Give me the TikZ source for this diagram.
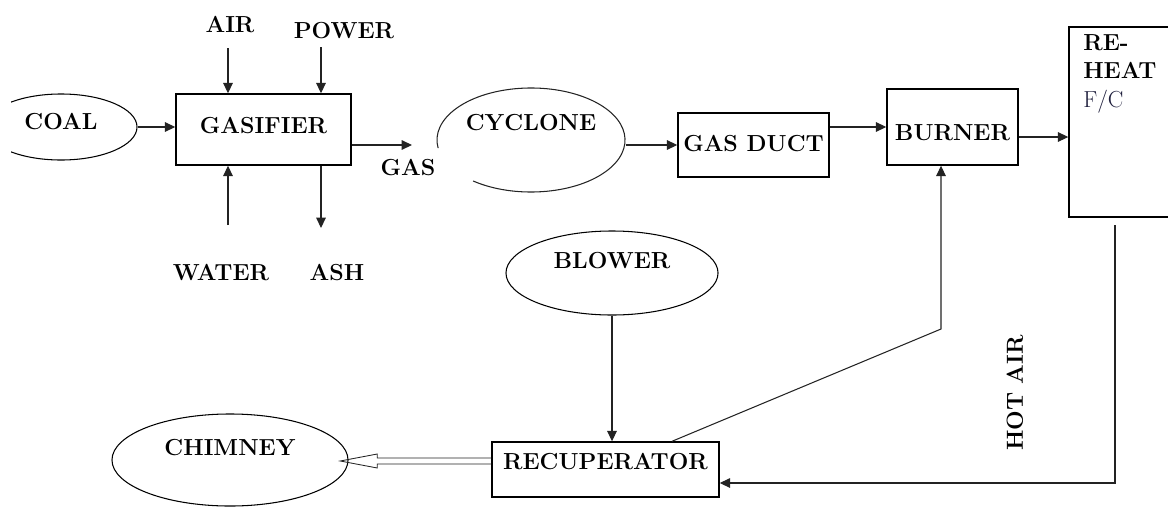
\documentclass[tikz,border=0pt]{standalone}
\usepackage{tikz}
\usetikzlibrary{arrows.meta,positioning,calc,shapes.geometric}
\definecolor{lnk}{RGB}{35,35,35}
\definecolor{fcblue}{RGB}{30,30,60}
\newcommand{\plantfont}{\fontsize{16.5}{20.2}\selectfont\bfseries}
\tikzset{
  blk/.style={draw, line width=1pt, inner sep=0pt, font=\plantfont, text height=0.4cm, text depth=0pt},
  oval/.style={ellipse, draw, line width=0.75pt, inner sep=0pt, font=\plantfont, text height=0.4cm},
  lbl/.style={inner sep=0pt, font=\plantfont},
  arr/.style={-{Triangle[length=0.26cm,width=0.24cm]}, lnk, line width=0.75pt},
  ln/.style={lnk, line width=0.75pt},
}
\begin{document}
\begin{tikzpicture}[x=0.025cm, y=-0.025cm]
\useasboundingbox (0,0) rectangle (1168,506);
\begin{scope}
\clip (11,0) rectangle (1168,506);
%---- gasifier and its feeds
\node[oval, minimum width=3.8cm, minimum height=1.65cm, text depth=0.3cm] (coal) at (61,127) {COAL};
\node[blk, minimum width=4.375cm, minimum height=1.775cm, text depth=0.225cm] (gasf) at (263.5,129.5) {GASIFIER};
\node[lbl] (air) at (230,25) {AIR};
\node[lbl] (power) at (344,31) {POWER};
\node[lbl] (water) at (221,273) {WATER};
\node[lbl] (ash) at (337,273) {ASH};
\node[lbl] (gastxt) at (408,168) {GAS};
\coordinate (airin) at (228,48);
\coordinate (pwin) at (321,47);
\coordinate (watin) at (228,225);
\coordinate (ashout) at (321,228);
\coordinate (gasout) at (412,145);
\draw[arr] (coal.east) -- (coal.east -| gasf.west);
\draw[arr] (airin) -- (airin |- gasf.north);
\draw[arr] (pwin) -- (pwin |- gasf.north);
\draw[arr] (watin) -- (watin |- gasf.south);
\draw[arr] (ashout |- gasf.south) -- (ashout);
\draw[arr] (gasf.east |- gasout) -- (gasout);
%---- gas line
\node[oval, draw=none, minimum width=4.7cm, minimum height=2.6cm, text depth=0.85cm] (cyc) at (531,140) {CYCLONE};
\draw[ln] ([shift={(232:2.35cm and 1.3cm)}]cyc.center) arc[start angle=232, end angle=549, x radius=2.35cm, y radius=1.3cm];
\node[blk, minimum width=3.775cm, minimum height=1.6cm, text depth=0.1cm] (duct) at (753.5,145) {GAS DUCT};
\node[blk, minimum width=3.275cm, minimum height=1.9cm, text height=0.65cm] (burn) at (952.5,127) {BURNER};
\node[blk, minimum width=3.025cm, minimum height=4.75cm] (reheat) at (1129.5,122) {};
\node[lbl, anchor=north west, align=left] (reheattxt) at (1083,34) {RE-\\HEAT\\{\mdseries\color{fcblue}F/C}};
\draw[arr] (cyc.east |- duct.west) -- (duct.west);
\draw[arr] (duct.east |- burn.west) -- (burn.west);
\draw[arr] ([yshift=-0.25cm]burn.east) -- ([yshift=-0.25cm]burn.east -| reheat.west);
%---- air side
\node[oval, minimum width=5.3cm, minimum height=2.1cm, text depth=0.65cm] (blow) at (612,273) {BLOWER};
\node[blk, minimum width=5.675cm, minimum height=1.375cm, text depth=0.4cm] (recup) at (605.5,469.5) {RECUPERATOR};
\node[oval, minimum width=5.9cm, minimum height=2.3cm, text depth=0.65cm] (chim) at (230,460) {CHIMNEY};
\node[lbl, rotate=90] (hotair) at (1015,393) {HOT\ AIR};
\coordinate (bend) at (941,329);
\coordinate (hot) at (1115,225);
\draw[arr] (blow.south) -- (blow.south |- recup.north);
\draw[arr] ([xshift=1.6625cm]recup.north) -- (bend) -- (bend |- burn.south);
\draw[arr] (hot) |- ([yshift=-0.3375cm]recup.east);
% flue gas to chimney
\coordinate (cw) at ([yshift=0.2125cm]recup.west);
\draw[ln, line width=0.6pt] (cw) ++(0,-3) -- ++(-114,0) -- ++(0,-4) -- ++(-37,7) -- ++(37,7) -- ++(0,-4) -- ++(114,0);
\end{scope}
\end{tikzpicture}
\end{document}
